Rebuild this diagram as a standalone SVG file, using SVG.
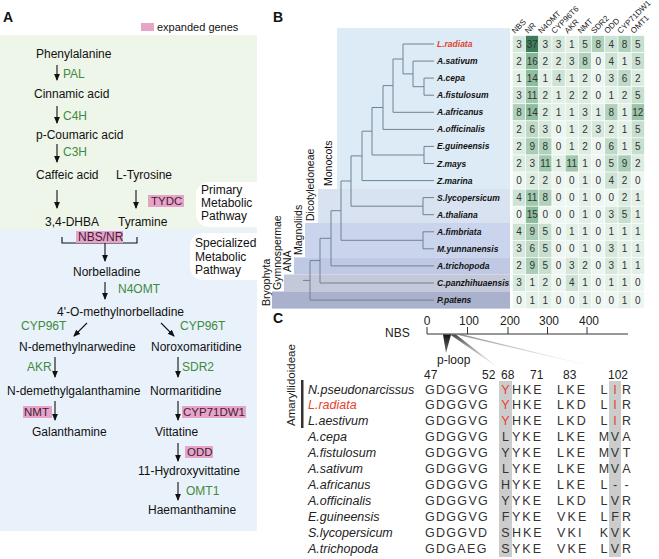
<svg xmlns="http://www.w3.org/2000/svg" width="659" height="559" viewBox="0 0 659 559">
<defs>
<marker id="ah" markerUnits="userSpaceOnUse" markerWidth="8" markerHeight="8" refX="6" refY="3.5" orient="auto"><path d="M0,0.6 L7,3.5 L0,6.4 z" fill="#111"/></marker>
<linearGradient id="g1" x1="0" y1="0" x2="0" y2="1"><stop offset="0" stop-color="#111"/><stop offset="1" stop-color="#777"/></linearGradient>
<linearGradient id="g2" x1="0" y1="0" x2="0" y2="1"><stop offset="0" stop-color="#444"/><stop offset="1" stop-color="#fff" stop-opacity="0.3"/></linearGradient>
</defs>
<style>
text{font-family:"Liberation Sans",Arial,sans-serif;}
.cmp{font-size:12px;fill:#111}
.enz{font-size:12px;fill:#3f8a3f}
.pkt{font-size:11.5px;fill:#4a1a3a}
.pk{fill:#e5a4c8}
.pnl{font-size:14px;font-weight:bold;fill:#111}
.arr{stroke:#111;stroke-width:1.1;fill:none;marker-end:url(#ah)}
.tr{stroke:#6f8294;stroke-width:1;fill:none}
.sp{font-size:8.5px;font-weight:bold;font-style:italic;fill:#111}
.hd{font-size:8px;fill:#222}
.num{font-size:10px;text-anchor:middle;fill:#333}
.c{width:13.2px;height:17.07px;stroke:#fff;stroke-width:0.6}
.v0{fill:#edf6f0}.v1{fill:#e3f0e7}.v2{fill:#dcece1}.v3{fill:#d5e8db}.v4{fill:#cde3d5}.v5{fill:#c6dfce}.v6{fill:#bedac7}.v8{fill:#b0d2bc}.v9{fill:#a9cdb6}.v11{fill:#a0c8ae}.v12{fill:#9bc5aa}.v14{fill:#8fbe9f}.v15{fill:#8abb9b}.v16{fill:#86b898}.v37{fill:#3b7d5a}
.cl{font-size:10.5px;fill:#111}
.nm{font-size:12.5px;font-style:italic;fill:#222}
.sq{font-size:12.5px;fill:#333}
.sqm{font-size:12.5px;fill:#333;text-anchor:middle}
.ax{font-size:12px;fill:#222}
.axm{font-size:12px;fill:#222;text-anchor:middle}
.red{fill:#e2432b}
.hl{fill:#cccccc}
</style>

<!-- Panel A -->
<g id="panelA">
<text class="pnl" x="3" y="22">A</text>
<rect x="0" y="35" width="257" height="194" fill="#eef6ea"/>
<rect x="0" y="229" width="257" height="302" fill="#e9f2fb"/>
<rect x="196" y="182" width="72" height="45" rx="13" fill="#fff"/>
<rect x="190" y="233" width="78" height="47" rx="13" fill="#fff"/>
<g id="legend"><rect class="pk" x="141" y="23" width="13" height="8"/><text x="157" y="31" style="font-size:11px;fill:#111">expanded genes</text></g>
<g id="lbl-primary"><text class="cmp" x="201" y="194">Primary</text><text class="cmp" x="201" y="207">Metabolic</text><text class="cmp" x="201" y="220">Pathway</text></g>
<g id="lbl-special"><text class="cmp" x="195" y="247">Specialized</text><text class="cmp" x="195" y="261">Metabolic</text><text class="cmp" x="195" y="274">Pathway</text></g>

<g id="n-phe"><text class="cmp" x="36" y="58">Phenylalanine</text></g>
<g id="n-cin"><text class="cmp" x="34" y="98">Cinnamic acid</text></g>
<g id="n-pcou"><text class="cmp" x="36" y="139">p-Coumaric acid</text></g>
<g id="n-caf"><text class="cmp" x="36" y="179">Caffeic acid</text></g>
<g id="n-tyr"><text class="cmp" x="116" y="179">L-Tyrosine</text></g>
<g id="n-dhba"><text class="cmp" x="45" y="226">3,4-DHBA</text></g>
<g id="n-tyra"><text class="cmp" x="118" y="226">Tyramine</text></g>
<g id="n-nor"><text class="cmp" x="73" y="276">Norbelladine</text></g>
<g id="n-4om"><text class="cmp" x="57" y="316">4'-O-methylnorbelladine</text></g>
<g id="n-ndn"><text class="cmp" x="19" y="351">N-demethylnarwedine</text></g>
<g id="n-nox"><text class="cmp" x="151" y="351">Noroxomaritidine</text></g>
<g id="n-ndg"><text class="cmp" x="7" y="395">N-demethylgalanthamine</text></g>
<g id="n-nmar"><text class="cmp" x="150" y="395">Normaritidine</text></g>
<g id="n-gal"><text class="cmp" x="32" y="436">Galanthamine</text></g>
<g id="n-vit"><text class="cmp" x="155" y="436">Vittatine</text></g>
<g id="n-hvit"><text class="cmp" x="138" y="475">11-Hydroxyvittatine</text></g>
<g id="n-hae"><text class="cmp" x="148" y="514">Haemanthamine</text></g>

<g id="connectors">
<line class="arr" x1="57" y1="65" x2="57" y2="80"/>
<line class="arr" x1="57" y1="106" x2="57" y2="123"/>
<line class="arr" x1="57" y1="144" x2="57" y2="162"/>
<line class="arr" x1="57" y1="190" x2="57" y2="208"/>
<line class="arr" x1="136" y1="190" x2="136" y2="208"/>
<path d="M62,237 V243 H137 V237" fill="none" stroke="#111" stroke-width="1.1"/>
<line class="arr" x1="105" y1="243" x2="105" y2="261"/>
<line class="arr" x1="105" y1="282" x2="105" y2="299"/>
<line class="arr" x1="87" y1="323" x2="74" y2="336"/>
<line class="arr" x1="161" y1="323" x2="174" y2="336"/>
<line class="arr" x1="55" y1="357" x2="55" y2="377"/>
<line class="arr" x1="178" y1="357" x2="178" y2="377"/>
<line class="arr" x1="55" y1="401" x2="55" y2="420"/>
<line class="arr" x1="178" y1="401" x2="178" y2="420"/>
<line class="arr" x1="178" y1="443" x2="178" y2="461"/>
<line class="arr" x1="178" y1="482" x2="178" y2="500"/>
</g>

<g id="enzymes">
<text class="enz" x="63" y="78">PAL</text>
<text class="enz" x="63" y="120">C4H</text>
<text class="enz" x="63" y="156">C3H</text>
<rect class="pk" x="148" y="195" width="36" height="12"/><text class="pkt" x="151" y="205">TYDC</text>
<rect class="pk" x="76" y="231" width="47" height="12"/><text class="pkt" x="78" y="241" style="font-size:12px">NBS/NR</text>
<text class="enz" x="118" y="293">N4OMT</text>
<text class="enz" x="21" y="330">CYP96T</text>
<text class="enz" x="180" y="330">CYP96T</text>
<text class="enz" x="27" y="371">AKR</text>
<text class="enz" x="182" y="371">SDR2</text>
<rect class="pk" x="23" y="406" width="29" height="12"/><text class="pkt" x="24" y="416">NMT</text>
<rect class="pk" x="182" y="406" width="64" height="12"/><text class="pkt" x="183" y="416">CYP71DW1</text>
<rect class="pk" x="185" y="446" width="28" height="12"/><text class="pkt" x="187" y="456">ODD</text>
<text class="enz" x="186" y="495">OMT1</text>
</g>
</g>

<!-- Panel B -->
<g id="panelB">
<text class="pnl" x="273" y="22">B</text>
<g id="bands">
<rect x="337" y="28" width="173" height="161" fill="#ddebf7"/>
<rect x="318" y="189" width="192" height="34" fill="#d8e2f0"/>
<rect x="305" y="223" width="205" height="34.4" fill="#cad4ec"/>
<rect x="294" y="257.4" width="216" height="17.1" fill="#bfc9e4"/>
<rect x="284" y="274.5" width="226" height="17" fill="#c4c9da"/>
<rect x="272" y="291.5" width="238" height="17.1" fill="#a9b1cc"/>
</g>
<g id="clades">
<text class="cl" transform="translate(332,186) rotate(-90)">Monocots</text>
<text class="cl" transform="translate(314,221) rotate(-90)">Dicotyledoneae</text>
<text class="cl" transform="translate(302,255) rotate(-90)">Magnoliids</text>
<text class="cl" transform="translate(291,272) rotate(-90)">ANA</text>
<text class="cl" transform="translate(281,290) rotate(-90)">Gymnospermae</text>
<text class="cl" transform="translate(270,306) rotate(-90)">Bryophyta</text>
</g>
<g id="tree">
<path class="tr" d="M403,44 H434 M413,61.1 H434 M424,78.1 H434 M424,95.2 H434 M424,78.1 V95.2 M413,86.7 H424 M413,61.1 V86.7 M403,73.9 H413 M403,44 V73.9 M393,59 H403 M393,112.3 H434 M393,59 V112.3 M383,85.6 H393 M383,129.4 H434 M383,85.6 V129.4 M424,146.4 H434 M424,163.5 H434 M424,146.4 V163.5 M372,155 H424 M372,107.5 H383 M372,107.5 V155 M362,131.2 H372 M362,180.6 H434 M362,131.2 V180.6 M423,197.6 H434 M423,214.7 H434 M423,197.6 V214.7 M351,155.9 H362 M351,206.2 H423 M351,155.9 V206.2 M423,231.8 H434 M423,248.8 H434 M423,231.8 V248.8 M341,181 H351 M341,240.3 H423 M341,181 V240.3 M331,210.7 H341 M331,265.9 H434 M331,210.7 V265.9 M320,238.3 H331 M320,283 H434 M320,238.3 V283 M310,260.6 H320 M310,300.1 H434 M310,260.6 V300.1 M303,280.4 H310"/>
</g>
<g id="species">
<text class="sp red" x="437" y="47">L.radiata</text>
<text class="sp" x="437" y="64.1">A.sativum</text>
<text class="sp" x="437" y="81.1">A.cepa</text>
<text class="sp" x="437" y="98.2">A.fistulosum</text>
<text class="sp" x="437" y="115.3">A.africanus</text>
<text class="sp" x="437" y="132.4">A.officinalis</text>
<text class="sp" x="437" y="149.4">E.guineensis</text>
<text class="sp" x="437" y="166.5">Z.mays</text>
<text class="sp" x="437" y="183.6">Z.marina</text>
<text class="sp" x="437" y="200.6">S.lycopersicum</text>
<text class="sp" x="437" y="217.7">A.thaliana</text>
<text class="sp" x="437" y="234.8">A.fimbriata</text>
<text class="sp" x="437" y="251.8">M.yunnanensis</text>
<text class="sp" x="437" y="268.9">A.trichopoda</text>
<text class="sp" x="437" y="286">C.panzhihuaensis</text>
<text class="sp" x="437" y="303.1">P.patens</text>
</g>
<g id="headers">
<text class="hd" transform="translate(515,34) rotate(-45)">NBS</text>
<text class="hd" transform="translate(528.2,34) rotate(-45)">NR</text>
<text class="hd" transform="translate(541.4,34) rotate(-45)">N4OMT</text>
<text class="hd" transform="translate(554.6,34) rotate(-45)">CYP96T6</text>
<text class="hd" transform="translate(567.8,34) rotate(-45)">AKR</text>
<text class="hd" transform="translate(581,34) rotate(-45)">NMT</text>
<text class="hd" transform="translate(594.2,34) rotate(-45)">SDR2</text>
<text class="hd" transform="translate(607.4,34) rotate(-45)">ODD</text>
<text class="hd" transform="translate(620.6,34) rotate(-45)">CYP71DW1</text>
<text class="hd" transform="translate(633.8,34) rotate(-45)">OMT1</text>
</g>
<g id="heatmap">
<g transform="translate(0,35.5)"><rect x="512.4" class="c v3"/><rect x="525.6" class="c v37"/><rect x="538.8" class="c v3"/><rect x="552" class="c v3"/><rect x="565.2" class="c v1"/><rect x="578.4" class="c v5"/><rect x="591.6" class="c v8"/><rect x="604.8" class="c v4"/><rect x="618" class="c v8"/><rect x="631.2" class="c v5"/>
<text class="num" x="519" y="12">3</text><text class="num" x="532.2" y="12">37</text><text class="num" x="545.4" y="12">3</text><text class="num" x="558.6" y="12">3</text><text class="num" x="571.8" y="12">1</text><text class="num" x="585" y="12">5</text><text class="num" x="598.2" y="12">8</text><text class="num" x="611.4" y="12">4</text><text class="num" x="624.6" y="12">8</text><text class="num" x="637.8" y="12">5</text></g>
<g transform="translate(0,52.57)"><rect x="512.4" class="c v2"/><rect x="525.6" class="c v16"/><rect x="538.8" class="c v2"/><rect x="552" class="c v2"/><rect x="565.2" class="c v3"/><rect x="578.4" class="c v8"/><rect x="591.6" class="c v0"/><rect x="604.8" class="c v4"/><rect x="618" class="c v1"/><rect x="631.2" class="c v5"/>
<text class="num" x="519" y="12">2</text><text class="num" x="532.2" y="12">16</text><text class="num" x="545.4" y="12">2</text><text class="num" x="558.6" y="12">2</text><text class="num" x="571.8" y="12">3</text><text class="num" x="585" y="12">8</text><text class="num" x="598.2" y="12">0</text><text class="num" x="611.4" y="12">4</text><text class="num" x="624.6" y="12">1</text><text class="num" x="637.8" y="12">5</text></g>
<g transform="translate(0,69.64)"><rect x="512.4" class="c v1"/><rect x="525.6" class="c v14"/><rect x="538.8" class="c v1"/><rect x="552" class="c v4"/><rect x="565.2" class="c v1"/><rect x="578.4" class="c v2"/><rect x="591.6" class="c v0"/><rect x="604.8" class="c v3"/><rect x="618" class="c v6"/><rect x="631.2" class="c v2"/>
<text class="num" x="519" y="12">1</text><text class="num" x="532.2" y="12">14</text><text class="num" x="545.4" y="12">1</text><text class="num" x="558.6" y="12">4</text><text class="num" x="571.8" y="12">1</text><text class="num" x="585" y="12">2</text><text class="num" x="598.2" y="12">0</text><text class="num" x="611.4" y="12">3</text><text class="num" x="624.6" y="12">6</text><text class="num" x="637.8" y="12">2</text></g>
<g transform="translate(0,86.71)"><rect x="512.4" class="c v3"/><rect x="525.6" class="c v11"/><rect x="538.8" class="c v2"/><rect x="552" class="c v1"/><rect x="565.2" class="c v2"/><rect x="578.4" class="c v2"/><rect x="591.6" class="c v0"/><rect x="604.8" class="c v1"/><rect x="618" class="c v2"/><rect x="631.2" class="c v5"/>
<text class="num" x="519" y="12">3</text><text class="num" x="532.2" y="12">11</text><text class="num" x="545.4" y="12">2</text><text class="num" x="558.6" y="12">1</text><text class="num" x="571.8" y="12">2</text><text class="num" x="585" y="12">2</text><text class="num" x="598.2" y="12">0</text><text class="num" x="611.4" y="12">1</text><text class="num" x="624.6" y="12">2</text><text class="num" x="637.8" y="12">5</text></g>
<g transform="translate(0,103.78)"><rect x="512.4" class="c v8"/><rect x="525.6" class="c v14"/><rect x="538.8" class="c v2"/><rect x="552" class="c v1"/><rect x="565.2" class="c v1"/><rect x="578.4" class="c v3"/><rect x="591.6" class="c v1"/><rect x="604.8" class="c v8"/><rect x="618" class="c v1"/><rect x="631.2" class="c v12"/>
<text class="num" x="519" y="12">8</text><text class="num" x="532.2" y="12">14</text><text class="num" x="545.4" y="12">2</text><text class="num" x="558.6" y="12">1</text><text class="num" x="571.8" y="12">1</text><text class="num" x="585" y="12">3</text><text class="num" x="598.2" y="12">1</text><text class="num" x="611.4" y="12">8</text><text class="num" x="624.6" y="12">1</text><text class="num" x="637.8" y="12">12</text></g>
<g transform="translate(0,120.85)"><rect x="512.4" class="c v2"/><rect x="525.6" class="c v6"/><rect x="538.8" class="c v3"/><rect x="552" class="c v0"/><rect x="565.2" class="c v1"/><rect x="578.4" class="c v2"/><rect x="591.6" class="c v3"/><rect x="604.8" class="c v2"/><rect x="618" class="c v1"/><rect x="631.2" class="c v5"/>
<text class="num" x="519" y="12">2</text><text class="num" x="532.2" y="12">6</text><text class="num" x="545.4" y="12">3</text><text class="num" x="558.6" y="12">0</text><text class="num" x="571.8" y="12">1</text><text class="num" x="585" y="12">2</text><text class="num" x="598.2" y="12">3</text><text class="num" x="611.4" y="12">2</text><text class="num" x="624.6" y="12">1</text><text class="num" x="637.8" y="12">5</text></g>
<g transform="translate(0,137.92)"><rect x="512.4" class="c v2"/><rect x="525.6" class="c v9"/><rect x="538.8" class="c v8"/><rect x="552" class="c v0"/><rect x="565.2" class="c v1"/><rect x="578.4" class="c v2"/><rect x="591.6" class="c v0"/><rect x="604.8" class="c v6"/><rect x="618" class="c v1"/><rect x="631.2" class="c v5"/>
<text class="num" x="519" y="12">2</text><text class="num" x="532.2" y="12">9</text><text class="num" x="545.4" y="12">8</text><text class="num" x="558.6" y="12">0</text><text class="num" x="571.8" y="12">1</text><text class="num" x="585" y="12">2</text><text class="num" x="598.2" y="12">0</text><text class="num" x="611.4" y="12">6</text><text class="num" x="624.6" y="12">1</text><text class="num" x="637.8" y="12">5</text></g>
<g transform="translate(0,154.99)"><rect x="512.4" class="c v2"/><rect x="525.6" class="c v3"/><rect x="538.8" class="c v11"/><rect x="552" class="c v1"/><rect x="565.2" class="c v11"/><rect x="578.4" class="c v1"/><rect x="591.6" class="c v0"/><rect x="604.8" class="c v5"/><rect x="618" class="c v9"/><rect x="631.2" class="c v2"/>
<text class="num" x="519" y="12">2</text><text class="num" x="532.2" y="12">3</text><text class="num" x="545.4" y="12">11</text><text class="num" x="558.6" y="12">1</text><text class="num" x="571.8" y="12">11</text><text class="num" x="585" y="12">1</text><text class="num" x="598.2" y="12">0</text><text class="num" x="611.4" y="12">5</text><text class="num" x="624.6" y="12">9</text><text class="num" x="637.8" y="12">2</text></g>
<g transform="translate(0,172.06)"><rect x="512.4" class="c v0"/><rect x="525.6" class="c v2"/><rect x="538.8" class="c v2"/><rect x="552" class="c v0"/><rect x="565.2" class="c v0"/><rect x="578.4" class="c v1"/><rect x="591.6" class="c v0"/><rect x="604.8" class="c v4"/><rect x="618" class="c v2"/><rect x="631.2" class="c v0"/>
<text class="num" x="519" y="12">0</text><text class="num" x="532.2" y="12">2</text><text class="num" x="545.4" y="12">2</text><text class="num" x="558.6" y="12">0</text><text class="num" x="571.8" y="12">0</text><text class="num" x="585" y="12">1</text><text class="num" x="598.2" y="12">0</text><text class="num" x="611.4" y="12">4</text><text class="num" x="624.6" y="12">2</text><text class="num" x="637.8" y="12">0</text></g>
<g transform="translate(0,189.13)"><rect x="512.4" class="c v4"/><rect x="525.6" class="c v11"/><rect x="538.8" class="c v8"/><rect x="552" class="c v0"/><rect x="565.2" class="c v0"/><rect x="578.4" class="c v1"/><rect x="591.6" class="c v0"/><rect x="604.8" class="c v0"/><rect x="618" class="c v2"/><rect x="631.2" class="c v1"/>
<text class="num" x="519" y="12">4</text><text class="num" x="532.2" y="12">11</text><text class="num" x="545.4" y="12">8</text><text class="num" x="558.6" y="12">0</text><text class="num" x="571.8" y="12">0</text><text class="num" x="585" y="12">1</text><text class="num" x="598.2" y="12">0</text><text class="num" x="611.4" y="12">0</text><text class="num" x="624.6" y="12">2</text><text class="num" x="637.8" y="12">1</text></g>
<g transform="translate(0,206.2)"><rect x="512.4" class="c v0"/><rect x="525.6" class="c v15"/><rect x="538.8" class="c v0"/><rect x="552" class="c v0"/><rect x="565.2" class="c v0"/><rect x="578.4" class="c v1"/><rect x="591.6" class="c v0"/><rect x="604.8" class="c v3"/><rect x="618" class="c v5"/><rect x="631.2" class="c v1"/>
<text class="num" x="519" y="12">0</text><text class="num" x="532.2" y="12">15</text><text class="num" x="545.4" y="12">0</text><text class="num" x="558.6" y="12">0</text><text class="num" x="571.8" y="12">0</text><text class="num" x="585" y="12">1</text><text class="num" x="598.2" y="12">0</text><text class="num" x="611.4" y="12">3</text><text class="num" x="624.6" y="12">5</text><text class="num" x="637.8" y="12">1</text></g>
<g transform="translate(0,223.27)"><rect x="512.4" class="c v4"/><rect x="525.6" class="c v9"/><rect x="538.8" class="c v5"/><rect x="552" class="c v0"/><rect x="565.2" class="c v1"/><rect x="578.4" class="c v1"/><rect x="591.6" class="c v0"/><rect x="604.8" class="c v1"/><rect x="618" class="c v1"/><rect x="631.2" class="c v1"/>
<text class="num" x="519" y="12">4</text><text class="num" x="532.2" y="12">9</text><text class="num" x="545.4" y="12">5</text><text class="num" x="558.6" y="12">0</text><text class="num" x="571.8" y="12">1</text><text class="num" x="585" y="12">1</text><text class="num" x="598.2" y="12">0</text><text class="num" x="611.4" y="12">1</text><text class="num" x="624.6" y="12">1</text><text class="num" x="637.8" y="12">1</text></g>
<g transform="translate(0,240.34)"><rect x="512.4" class="c v3"/><rect x="525.6" class="c v6"/><rect x="538.8" class="c v5"/><rect x="552" class="c v0"/><rect x="565.2" class="c v0"/><rect x="578.4" class="c v1"/><rect x="591.6" class="c v0"/><rect x="604.8" class="c v3"/><rect x="618" class="c v1"/><rect x="631.2" class="c v1"/>
<text class="num" x="519" y="12">3</text><text class="num" x="532.2" y="12">6</text><text class="num" x="545.4" y="12">5</text><text class="num" x="558.6" y="12">0</text><text class="num" x="571.8" y="12">0</text><text class="num" x="585" y="12">1</text><text class="num" x="598.2" y="12">0</text><text class="num" x="611.4" y="12">3</text><text class="num" x="624.6" y="12">1</text><text class="num" x="637.8" y="12">1</text></g>
<g transform="translate(0,257.41)"><rect x="512.4" class="c v2"/><rect x="525.6" class="c v9"/><rect x="538.8" class="c v5"/><rect x="552" class="c v0"/><rect x="565.2" class="c v3"/><rect x="578.4" class="c v2"/><rect x="591.6" class="c v0"/><rect x="604.8" class="c v3"/><rect x="618" class="c v1"/><rect x="631.2" class="c v1"/>
<text class="num" x="519" y="12">2</text><text class="num" x="532.2" y="12">9</text><text class="num" x="545.4" y="12">5</text><text class="num" x="558.6" y="12">0</text><text class="num" x="571.8" y="12">3</text><text class="num" x="585" y="12">2</text><text class="num" x="598.2" y="12">0</text><text class="num" x="611.4" y="12">3</text><text class="num" x="624.6" y="12">1</text><text class="num" x="637.8" y="12">1</text></g>
<g transform="translate(0,274.48)"><rect x="512.4" class="c v3"/><rect x="525.6" class="c v1"/><rect x="538.8" class="c v2"/><rect x="552" class="c v0"/><rect x="565.2" class="c v4"/><rect x="578.4" class="c v1"/><rect x="591.6" class="c v0"/><rect x="604.8" class="c v1"/><rect x="618" class="c v1"/><rect x="631.2" class="c v0"/>
<text class="num" x="519" y="12">3</text><text class="num" x="532.2" y="12">1</text><text class="num" x="545.4" y="12">2</text><text class="num" x="558.6" y="12">0</text><text class="num" x="571.8" y="12">4</text><text class="num" x="585" y="12">1</text><text class="num" x="598.2" y="12">0</text><text class="num" x="611.4" y="12">1</text><text class="num" x="624.6" y="12">1</text><text class="num" x="637.8" y="12">0</text></g>
<g transform="translate(0,291.55)"><rect x="512.4" class="c v0"/><rect x="525.6" class="c v1"/><rect x="538.8" class="c v1"/><rect x="552" class="c v0"/><rect x="565.2" class="c v0"/><rect x="578.4" class="c v1"/><rect x="591.6" class="c v0"/><rect x="604.8" class="c v0"/><rect x="618" class="c v1"/><rect x="631.2" class="c v0"/>
<text class="num" x="519" y="12">0</text><text class="num" x="532.2" y="12">1</text><text class="num" x="545.4" y="12">1</text><text class="num" x="558.6" y="12">0</text><text class="num" x="571.8" y="12">0</text><text class="num" x="585" y="12">1</text><text class="num" x="598.2" y="12">0</text><text class="num" x="611.4" y="12">0</text><text class="num" x="624.6" y="12">1</text><text class="num" x="637.8" y="12">0</text></g>
</g>
</g>

<!-- Panel C -->
<g id="panelC">
<text class="pnl" x="273" y="323">C</text>
<g id="axis">
<text class="ax" x="385" y="337">NBS</text>
<path d="M427,334 H628 M427,327 V334 M467.5,327 V334 M508,327 V334 M547.5,327 V334 M587,327 V334" stroke="#333" stroke-width="1" fill="none"/>
<text class="axm" x="427" y="325">0</text>
<text class="axm" x="469" y="325">100</text>
<text class="axm" x="510" y="325">200</text>
<text class="axm" x="549" y="325">300</text>
<text class="axm" x="589" y="325">400</text>
<polygon points="456,334.5 463,334.5 616,372" fill="url(#g2)" opacity="0.6"/>
<polygon points="450,334.5 456,334.5 504,372" fill="url(#g2)"/>
<polygon points="443,334.5 451,334.5 446,353" fill="url(#g1)"/>
<text class="ax" x="437" y="364">p-loop</text>
</g>
<g id="positions">
<text class="ax" x="424" y="379">47</text>
<text class="ax" x="482" y="379">52</text>
<text class="ax" x="501" y="379">68</text>
<text class="ax" x="530" y="379">71</text>
<text class="ax" x="563" y="379">83</text>
<text class="ax" x="608" y="379">102</text>
</g>
<rect class="hl" x="499" y="381" width="13" height="176"/>
<rect class="hl" x="609" y="381" width="12" height="176"/>
<g id="amaryllid">
<text transform="translate(295,426) rotate(-90)" style="font-size:11.5px;fill:#222">Amaryllidoideae</text>
<rect x="301" y="380" width="2.5" height="48" fill="#333"/>
</g>
<g id="alignment">
<g id="r1"><text class="nm" x="308" y="393.5">N.pseudonarcissus</text><text class="sq" x="425" y="393.5" letter-spacing="1.3">GDGGVG</text><text class="sqm red" x="505.5" y="393.5">Y</text><text class="sq" x="512" y="393.5" letter-spacing="2">HKE</text><text class="sq" x="557" y="393.5" letter-spacing="2.2">LKE</text><text class="sqm" x="604" y="393.5">L</text><text class="sqm red" x="615" y="393.5">I</text><text class="sqm" x="626.5" y="393.5">R</text></g>
<g id="r2"><text class="nm red" x="308" y="409.4">L.radiata</text><text class="sq" x="425" y="409.4" letter-spacing="1.3">GDGGVG</text><text class="sqm red" x="505.5" y="409.4">Y</text><text class="sq" x="512" y="409.4" letter-spacing="2">HKE</text><text class="sq" x="557" y="409.4" letter-spacing="2.2">LKD</text><text class="sqm" x="604" y="409.4">L</text><text class="sqm red" x="615" y="409.4">I</text><text class="sqm" x="626.5" y="409.4">R</text></g>
<g id="r3"><text class="nm" x="308" y="425.3">L.aestivum</text><text class="sq" x="425" y="425.3" letter-spacing="1.3">GDGGVG</text><text class="sqm red" x="505.5" y="425.3">Y</text><text class="sq" x="512" y="425.3" letter-spacing="2">HKE</text><text class="sq" x="557" y="425.3" letter-spacing="2.2">LKD</text><text class="sqm" x="604" y="425.3">L</text><text class="sqm red" x="615" y="425.3">I</text><text class="sqm" x="626.5" y="425.3">R</text></g>
<g id="r4"><text class="nm" x="308" y="441.2">A.cepa</text><text class="sq" x="425" y="441.2" letter-spacing="1.3">GDGGVG</text><text class="sqm" x="505.5" y="441.2">L</text><text class="sq" x="512" y="441.2" letter-spacing="2">YKE</text><text class="sq" x="557" y="441.2" letter-spacing="2.2">LKE</text><text class="sqm" x="604" y="441.2">M</text><text class="sqm" x="615" y="441.2">V</text><text class="sqm" x="626.5" y="441.2">A</text></g>
<g id="r5"><text class="nm" x="308" y="457.1">A.fistulosum</text><text class="sq" x="425" y="457.1" letter-spacing="1.3">GDGGVG</text><text class="sqm" x="505.5" y="457.1">Y</text><text class="sq" x="512" y="457.1" letter-spacing="2">YKE</text><text class="sq" x="557" y="457.1" letter-spacing="2.2">LKE</text><text class="sqm" x="604" y="457.1">M</text><text class="sqm" x="615" y="457.1">V</text><text class="sqm" x="626.5" y="457.1">T</text></g>
<g id="r6"><text class="nm" x="308" y="473">A.sativum</text><text class="sq" x="425" y="473" letter-spacing="1.3">GDGGVG</text><text class="sqm" x="505.5" y="473">L</text><text class="sq" x="512" y="473" letter-spacing="2">YKE</text><text class="sq" x="557" y="473" letter-spacing="2.2">LKE</text><text class="sqm" x="604" y="473">M</text><text class="sqm" x="615" y="473">V</text><text class="sqm" x="626.5" y="473">A</text></g>
<g id="r7"><text class="nm" x="308" y="488.9">A.africanus</text><text class="sq" x="425" y="488.9" letter-spacing="1.3">GDGGVG</text><text class="sqm" x="505.5" y="488.9">H</text><text class="sq" x="512" y="488.9" letter-spacing="2">YKE</text><text class="sq" x="557" y="488.9" letter-spacing="2.2">LKE</text><text class="sqm" x="604" y="488.9">L</text><text class="sqm" x="615" y="488.9">-</text><text class="sqm" x="626.5" y="488.9">-</text></g>
<g id="r8"><text class="nm" x="308" y="504.8">A.officinalis</text><text class="sq" x="425" y="504.8" letter-spacing="1.3">GDGGVG</text><text class="sqm" x="505.5" y="504.8">Y</text><text class="sq" x="512" y="504.8" letter-spacing="2">YKE</text><text class="sq" x="557" y="504.8" letter-spacing="2.2">LKD</text><text class="sqm" x="604" y="504.8">L</text><text class="sqm" x="615" y="504.8">V</text><text class="sqm" x="626.5" y="504.8">R</text></g>
<g id="r9"><text class="nm" x="308" y="520.7">E.guineensis</text><text class="sq" x="425" y="520.7" letter-spacing="1.3">GDGGVG</text><text class="sqm" x="505.5" y="520.7">F</text><text class="sq" x="512" y="520.7" letter-spacing="2">YKE</text><text class="sq" x="557" y="520.7" letter-spacing="2.2">VKE</text><text class="sqm" x="604" y="520.7">L</text><text class="sqm" x="615" y="520.7">F</text><text class="sqm" x="626.5" y="520.7">R</text></g>
<g id="r10"><text class="nm" x="308" y="536.6">S.lycopersicum</text><text class="sq" x="425" y="536.6" letter-spacing="1.3">GDGGVD</text><text class="sqm" x="505.5" y="536.6">S</text><text class="sq" x="512" y="536.6" letter-spacing="2">HKE</text><text class="sq" x="557" y="536.6" letter-spacing="2.2">VKI</text><text class="sqm" x="604" y="536.6">K</text><text class="sqm" x="615" y="536.6">V</text><text class="sqm" x="626.5" y="536.6">K</text></g>
<g id="r11"><text class="nm" x="308" y="552.5">A.trichopoda</text><text class="sq" x="425" y="552.5" letter-spacing="1.3">GDGAEG</text><text class="sqm" x="505.5" y="552.5">S</text><text class="sq" x="512" y="552.5" letter-spacing="2">YKE</text><text class="sq" x="557" y="552.5" letter-spacing="2.2">VKE</text><text class="sqm" x="604" y="552.5">L</text><text class="sqm" x="615" y="552.5">V</text><text class="sqm" x="626.5" y="552.5">R</text></g>
</g>
</g>
</svg>
